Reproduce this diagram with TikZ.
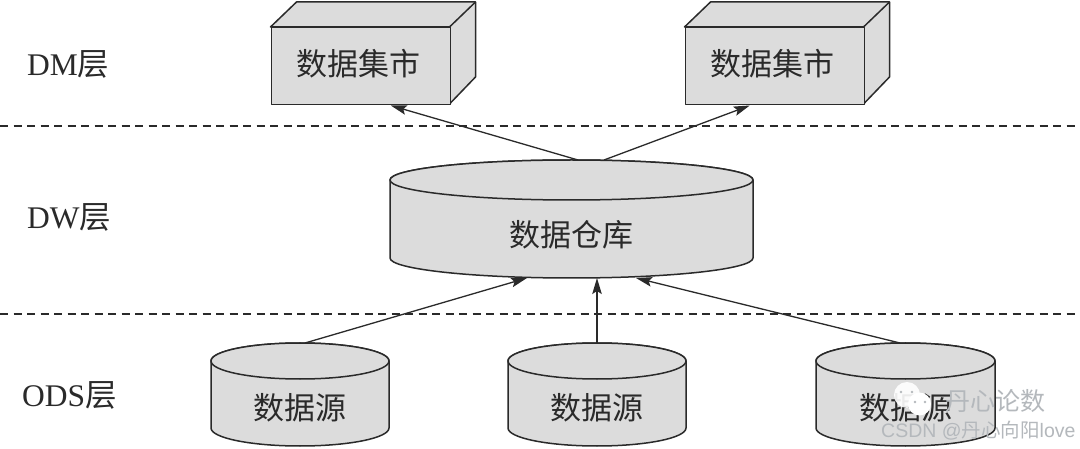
\documentclass[tikz,border=0pt]{standalone}
\usepackage{fontspec}
\setmainfont{Liberation Serif}
\newfontfamily\cjk{Noto Sans CJK SC}
\newfontfamily\wm{Liberation Sans}
\usetikzlibrary{arrows.meta}
\definecolor{ink}{HTML}{2A2A2A}
\definecolor{face}{HTML}{DCDCDC}
\definecolor{wmgray}{HTML}{B4B8BC}
\tikzset{
  x=1pt,y=-1pt,
  outline/.style={draw=ink,line width=1.5pt,fill=face,line join=round},
  txt/.style={font=\cjk\fontsize{31}{31}\selectfont,text=ink,inner sep=0pt},
  lay/.style={font=\fontsize{31.5}{31.5}\selectfont,text=ink,inner sep=0pt,anchor=west},
  sep/.style={draw=ink,line width=1.2pt,dash pattern=on 8pt off 5.5pt},
  conn/.style={draw=ink,line width=1.3pt,-{Stealth[length=16pt,width=9.5pt,inset=3pt]}},
}
\newcommand{\cubebox}[3]{% name, left x, label
  \path[outline] (#2,27) -- ++(26,-25) -- ++(179,0) -- ++(0,75) -- ++(-26,27) -- ++(0,-77) -- cycle;
  \path[outline] (#2+179,27) -- ++(26,-25);
  \node[outline,minimum width=179pt,minimum height=77pt,inner sep=0pt,anchor=north west] (#1) at (#2,27) {};
  \node[txt] (#1t) at (#2+88,64) {#3};
}
\newcommand{\drum}[8]{% name, cx, rx, topy, boty, ry, label y, label
  \path[outline] (#2-#3,#4) -- (#2-#3,#5) arc[start angle=180,end angle=360,x radius=#3pt,y radius=#6pt] -- (#2+#3,#4) arc[start angle=0,end angle=180,x radius=#3pt,y radius=#6pt] -- cycle;
  \path[outline] (#2,#4) ellipse[x radius=#3pt,y radius=#6pt];
  \coordinate (#1top) at (#2,#4-#6);
  \coordinate (#1bot) at (#2,#5+#6);
  \node[txt] (#1) at (#2,#7) {#8};
}
\begin{document}
\begin{tikzpicture}
\useasboundingbox (0,0) rectangle (1080,449);
\fill[white] (0,0) rectangle (1080,449);
\coordinate (d1l) at (0,126); \coordinate (d1r) at (1080,126);
\coordinate (d2l) at (0,314); \coordinate (d2r) at (1080,314);
\draw[sep] (d1l) -- (d1r);
\draw[sep] (d2l) -- (d2r);

\cubebox{dma}{270.5}{数据集市}
\cubebox{dmb}{684.5}{数据集市}
\drum{dw}{571.5}{181.5}{180}{258}{20}{235}{数据仓库}
\drum{sa}{300}{89}{361}{428}{18}{408}{数据源}
\drum{sb}{597}{89}{361}{428}{18}{408}{数据源}
\drum{sc}{905.5}{89.5}{361}{428}{18}{408}{数据源}

\node[lay] (l1) at (27,64) {DM{\cjk 层}};
\node[lay] (l2) at (27,217) {DW{\cjk 层}};
\node[lay] (l3) at (22,395) {ODS{\cjk 层}};

\draw[conn] ([xshift=6.5pt]dwtop) -- ([xshift=30pt]dma.south);
\draw[conn] ([xshift=32.5pt]dwtop) -- ([xshift=-25pt]dmb.south);
\draw[conn] ([xshift=5pt]satop) -- ([xshift=-44.5pt]dwbot);
\draw[conn] (sbtop) -- ([xshift=25.5pt]dwbot);
\draw[conn] ([xshift=-5.5pt]sctop) -- ([xshift=64.5pt]dwbot);

% watermark
\fill[white,opacity=.9] (907,395) circle[radius=13pt];
\fill[white] (919.5,404) circle[radius=11.5pt];
\fill[wmgray] (901,392) circle[radius=1.3pt] (912,392) circle[radius=1.3pt] (915,402) circle[radius=1.3pt] (925,402) circle[radius=1.3pt];
\node[inner sep=0pt,anchor=west,text=wmgray,font=\cjk\fontsize{25}{25}\selectfont] (wma) at (945,401) {丹心论数};
\node[inner sep=0pt,anchor=west,text=wmgray,font=\wm\fontsize{19.5}{19.5}\selectfont] (wmb) at (881,431) {CSDN @{\cjk 丹心向阳}love};
\end{tikzpicture}
\end{document}
